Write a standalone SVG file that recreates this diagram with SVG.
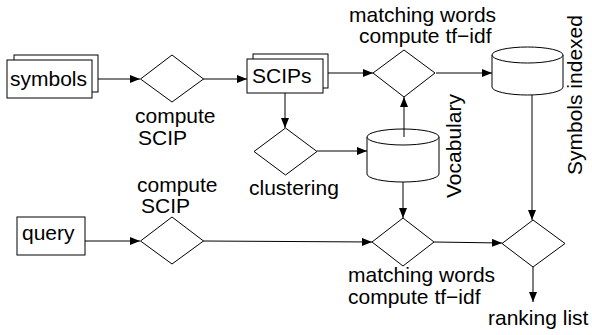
<svg xmlns="http://www.w3.org/2000/svg" width="592" height="335" viewBox="0 0 592 335">
<style>
.s{fill:#fff;stroke:#000;stroke-width:1}
.t{font-family:"Liberation Sans",Arial,Helvetica,sans-serif;font-size:21px;fill:#000}
.c{fill:none;stroke:#000;stroke-width:1}
</style>
<defs>
<marker id="a" viewBox="0 0 10 8" refX="10" refY="4" markerWidth="10" markerHeight="8" markerUnits="userSpaceOnUse" orient="auto">
<path d="M0,0 L10,4 L0,8 Z" fill="#000"/>
</marker>
</defs>
<rect width="592" height="335" fill="#fff"/>
<g id="connectors" class="c" marker-end="url(#a)">
<line x1="98" y1="79" x2="140" y2="79"/>
<line x1="203" y1="79" x2="247" y2="79"/>
<line x1="328" y1="73" x2="373" y2="73"/>
<line x1="436" y1="73" x2="492" y2="73"/>
<line x1="285" y1="93" x2="285" y2="128"/>
<line x1="317" y1="151" x2="367" y2="151"/>
<line x1="404" y1="137" x2="404" y2="97"/>
<line x1="403" y1="182" x2="403" y2="218"/>
<line x1="532" y1="95" x2="532" y2="220"/>
<line x1="85" y1="241" x2="140" y2="241"/>
<line x1="203" y1="241" x2="372" y2="242"/>
<line x1="434" y1="242" x2="502" y2="243"/>
<line x1="533" y1="267" x2="533" y2="302"/>
</g>
<g id="symbols">
<rect class="s" x="14" y="55" width="84" height="37"/>
<rect class="s" x="7" y="60" width="85" height="38"/>
<text class="t" x="10" y="86">symbols</text>
</g>
<g id="computeSCIP1">
<polygon class="s" points="172,55 203.5,79 172,102 140.5,79"/>
<text class="t" x="135" y="123">compute</text>
<text class="t" x="138" y="145">SCIP</text>
</g>
<g id="SCIPs">
<rect class="s" x="253" y="54" width="75" height="34"/>
<rect class="s" x="247" y="59" width="76" height="34"/>
<text class="t" x="252" y="83">SCIPs</text>
</g>
<g id="matching1">
<polygon class="s" points="404,50 435,73 404,97 373,73"/>
<text class="t" x="349" y="22">matching words</text>
<text class="t" x="359" y="43">compute tf−idf</text>
</g>
<g id="symbolsIndexed">
<path class="s" d="M492,55 V87 A35.5,8 0 0 0 563,87 V55"/>
<ellipse class="s" cx="527.5" cy="55" rx="35.5" ry="8"/>
<text class="t" transform="translate(582,175) rotate(-90)">Symbols indexed</text>
</g>
<g id="clustering">
<polygon class="s" points="285.5,128 317,151.5 285.5,175 254,151.5"/>
<text class="t" x="249" y="195">clustering</text>
</g>
<g id="vocabulary">
<path class="s" d="M367,137 V174 A36,8 0 0 0 439,174 V137"/>
<ellipse class="s" cx="403" cy="137" rx="36" ry="8"/>
<line x1="404" y1="129" x2="404" y2="137" stroke="#000"/>
<text class="t" transform="translate(461,198) rotate(-90)">Vocabulary</text>
</g>
<g id="query">
<rect class="s" x="17" y="217" width="68" height="38"/>
<text class="t" x="22" y="240">query</text>
</g>
<g id="computeSCIP2">
<polygon class="s" points="172,217 203.5,241 172,264 140.5,241"/>
<text class="t" x="137" y="192">compute</text>
<text class="t" x="141" y="213">SCIP</text>
</g>
<g id="matching2">
<polygon class="s" points="403,218 434,242 403,266 372,242"/>
<text class="t" x="348" y="282">matching words</text>
<text class="t" x="348" y="304">compute tf−idf</text>
</g>
<g id="ranking">
<polygon class="s" points="533,220 565,243.5 533,267 502,243.5"/>
<text class="t" x="488" y="325">ranking list</text>
</g>
</svg>
